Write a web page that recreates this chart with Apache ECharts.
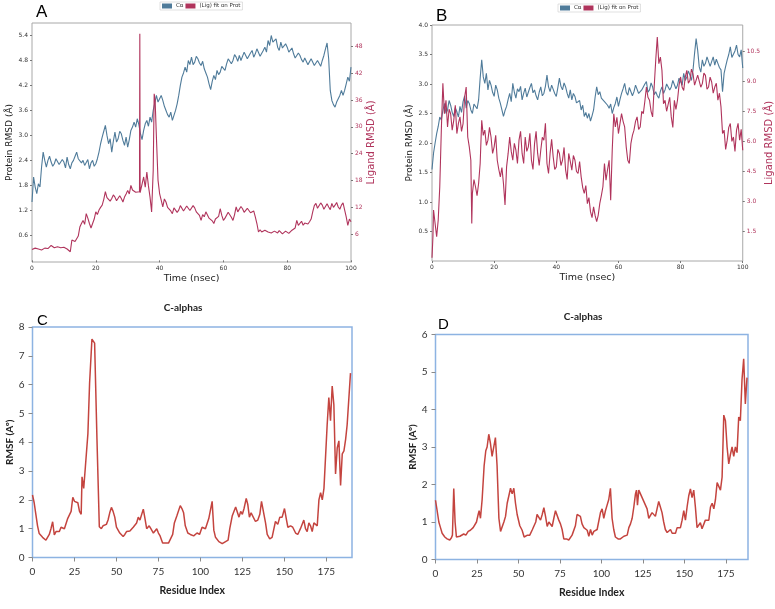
<!DOCTYPE html>
<html><head><meta charset="utf-8">
<script src="https://cdn.jsdelivr.net/npm/echarts@6/dist/echarts.min.js"></script>
<style>html,body{margin:0;padding:0;background:#fff}#c{width:775px;height:609px}</style>
</head><body><div id="c"></div>
<script>
// ---------- tick labels ----------
const timeTicks = [0, 20, 40, 60, 80, 100];
const protTicksA = [0.6, 1.2, 1.8, 2.4, 3.0, 3.6, 4.2, 4.8, 5.4];
const ligTicksA = [6, 12, 18, 24, 30, 36, 42, 48];
const protTicksB = [0.5, 1.0, 1.5, 2.0, 2.5, 3.0, 3.5, 4.0];
const ligTicksB = [1.5, 3.0, 4.5, 6.0, 7.5, 9.0, 10.5];
const residueTicks = [0, 25, 50, 75, 100, 125, 150, 175];

// ---------- series names ----------
const protName = 'Cα';
const ligName = '(Lig) fit on Prot';

// ---------- Panel A: [time (ns), RMSD] ----------
const proteinA = [[0,1.4],[0.5,2.0],[1,1.76],[1.5,1.6],[2,1.84],[2.5,1.76],[3,2.24],[3.5,2.6],[4,2.4],[4.5,2.24],[5,2.4],[5.5,2.5],[6,2.36],[6.5,2.26],[7,2.32],[7.5,2.44],[8,2.4],[8.5,2.3],[9,2.28],[9.5,2.42],[10,2.36],[10.5,2.22],[11,2.48],[11.5,2.3],[12,2.2],[12.5,2.34],[13,2.4],[13.5,2.5],[14,2.6],[14.5,2.44],[15,2.48],[15.5,2.34],[16,2.4],[16.5,2.28],[17,2.32],[17.5,2.42],[18,2.2],[18.5,2.34],[19,2.4],[19.5,2.26],[20,2.32],[20.5,2.44],[21,2.6],[21.5,2.8],[22,2.96],[22.5,3.1],[23,3.24],[23.5,3.0],[24,2.8],[24.5,2.92],[25,2.6],[25.5,2.86],[26,3.08],[26.5,2.84],[27,2.92],[27.5,3.1],[28,3.04],[28.5,2.88],[29,2.76],[29.5,2.96],[30,2.72],[30.5,2.9],[31,3.12],[31.5,3.2],[32,3.32],[32.5,3.2],[33,3.4],[33.5,3.26],[34,3.04],[34.5,2.9],[35,3.12],[35.5,3.28],[36,3.36],[36.5,3.22],[37,3.44],[37.5,3.32],[38,3.6],[38.5,3.56],[39,3.96],[39.5,3.8],[40,3.88],[40.5,3.96],[41,3.84],[41.5,3.7],[42,3.6],[42.5,3.5],[43,3.44],[43.5,3.56],[44,3.36],[44.5,3.48],[45,3.6],[45.5,3.76],[46,3.96],[46.5,4.2],[47,4.4],[47.5,4.5],[48,4.64],[48.5,4.52],[49,4.8],[49.5,4.7],[50,4.88],[50.5,4.7],[51,4.76],[51.5,4.9],[52,4.84],[52.5,4.74],[53,4.68],[53.5,4.78],[54,4.6],[54.5,4.5],[55,4.4],[55.5,4.24],[56,4.1],[56.5,4.3],[57,4.44],[57.5,4.34],[58,4.56],[58.5,4.46],[59,4.52],[59.5,4.66],[60,4.64],[60.5,4.56],[61,4.72],[61.5,4.84],[62,4.88],[62.5,4.72],[63,4.8],[63.5,4.94],[64,4.88],[64.5,4.78],[65,4.92],[65.5,4.8],[66,4.84],[66.5,5.0],[67,4.96],[67.5,4.84],[68,4.88],[68.5,4.98],[69,5.04],[69.5,4.88],[70,4.96],[70.5,5.08],[71,5.04],[71.5,4.9],[72,4.92],[72.5,5.04],[73,5.12],[73.5,5.0],[74,5.28],[74.5,5.16],[75,5.4],[75.5,5.24],[76,5.2],[76.5,5.32],[77,5.12],[77.5,5.04],[78,5.24],[78.5,5.1],[79,5.08],[79.5,5.2],[80,5.12],[80.5,5.0],[81,5.0],[81.5,5.1],[82,4.96],[82.5,4.86],[83,4.88],[83.5,4.98],[84,4.92],[84.5,4.82],[85,4.76],[85.5,4.86],[86,4.84],[86.5,4.7],[87,4.72],[87.5,4.84],[88,4.8],[88.5,4.68],[89,4.68],[89.5,4.8],[90,4.76],[90.5,4.66],[91,4.8],[91.5,4.92],[92,5.08],[92.5,5.22],[93,4.84],[93.5,4.08],[94,3.84],[94.5,3.74],[95,3.68],[95.5,3.8],[96,3.84],[96.5,3.96],[97,4.08],[97.5,3.96],[98,4.08],[98.5,4.24],[99,4.4],[99.5,4.3],[100,4.64]];
const ligandA = [[0,2.6],[0.5,3.0],[1,2.9],[1.5,2.5],[2,2.7],[2.5,3.1],[3,2.5],[3.5,2.8],[4,2.9],[4.5,2.6],[5,2.8],[5.5,3.2],[6,3.5],[6.5,3.1],[7,3.0],[7.5,3.3],[8,3.2],[8.5,2.9],[9,3.0],[9.5,3.3],[10,3.1],[10.5,2.8],[11,2.7],[11.5,2.9],[12,2.1],[12.5,4.7],[13,5.0],[13.5,4.4],[14,4.7],[14.5,5.6],[15,7.6],[15.5,8.4],[16,9.1],[16.5,8.2],[17,10.6],[17.5,9.6],[18,8.4],[18.5,7.4],[19,7.3],[19.5,9.4],[20,11.0],[20.5,10.4],[21,11.4],[21.5,12.0],[22,12.5],[22.5,13.8],[23,15.5],[23.5,14.2],[24,14.3],[24.5,13.4],[25,14.0],[25.5,14.8],[26,14.3],[26.5,13.5],[27,13.6],[27.5,14.6],[28,14.0],[28.5,13.2],[29,14.3],[29.5,15.0],[30,15.8],[30.5,15.0],[31,16.9],[31.5,15.9],[32,16.2],[32.5,15.4],[33,15.1],[33.7,15.5],[33.8,50.8],[33.9,15.3],[34,15.1],[34.5,17.2],[35,18.8],[35.5,16.5],[36,19.9],[36.5,16.8],[37,14.3],[37.5,11.0],[38,20.3],[38.3,37.4],[38.6,35.9],[39,27.7],[39.5,18.1],[40,15.1],[40.5,13.6],[41,12.1],[41.5,13.9],[42,13.2],[42.5,12.0],[43,12.1],[43.5,11.2],[44,10.6],[44.5,11.9],[45,11.7],[45.5,10.9],[46,11.4],[46.5,12.4],[47,12.1],[47.5,11.2],[48,11.4],[48.5,12.3],[49,12.1],[49.5,11.3],[50,11.7],[50.5,12.4],[51,11.9],[51.5,11.0],[52,11.4],[52.5,10.2],[53,9.1],[53.5,10.4],[54,9.9],[54.5,11.0],[55,10.6],[55.5,9.6],[56,9.5],[56.5,9.0],[57,8.4],[57.5,9.4],[58,9.1],[58.5,10.0],[59,11.7],[59.5,10.2],[60,9.1],[60.5,9.6],[61,9.9],[61.5,10.9],[62,10.6],[62.5,9.8],[63,9.1],[63.5,10.4],[64,12.1],[64.5,11.0],[65,11.4],[65.5,12.2],[66,11.7],[66.5,10.9],[67,11.0],[67.5,11.8],[68,11.4],[68.5,10.8],[69,10.6],[69.5,11.2],[70,9.9],[70.5,8.4],[71,6.5],[71.5,7.0],[72,6.5],[72.5,6.2],[73,6.9],[73.5,6.6],[74,6.5],[74.5,6.9],[75,6.3],[75.5,6.0],[76,6.7],[76.5,6.4],[77,6.3],[77.5,6.8],[78,6.5],[78.5,6.1],[79,6.2],[79.5,6.7],[80,6.5],[80.5,6.2],[81,6.3],[81.5,6.9],[82,6.7],[82.5,7.4],[83,9.1],[83.5,8.0],[84,8.4],[84.5,8.9],[85,8.0],[85.5,8.5],[86,8.8],[86.5,8.3],[87,8.8],[87.5,9.4],[88,11.0],[88.5,12.4],[89,12.9],[89.5,11.8],[90,12.1],[90.5,13.0],[91,12.5],[91.5,11.6],[92,11.7],[92.5,12.8],[93,12.1],[93.5,11.5],[94,12.9],[94.5,12.0],[95,12.5],[95.5,13.1],[96,12.1],[96.5,11.6],[97,12.5],[97.5,13.0],[98,12.9],[98.5,9.9],[99,8.0],[99.5,9.4],[100,8.8]];

// ---------- Panel B ----------
const proteinB = [[0,1.55],[0.5,1.83],[1,2.0],[1.5,2.16],[2,2.28],[2.5,2.44],[3,2.39],[3.5,2.55],[4,2.67],[4.5,2.5],[5,2.56],[5.5,2.72],[6,2.64],[6.5,2.52],[7,2.45],[7.5,2.6],[8,2.53],[8.5,2.44],[9,2.62],[9.5,2.52],[10,2.7],[10.5,2.8],[11,2.59],[11.5,2.72],[12,2.67],[12.5,2.56],[13,2.5],[13.5,2.66],[14,2.64],[14.5,2.58],[15,2.73],[15.5,3.1],[16,3.41],[16.5,3.12],[17,3.01],[17.5,3.18],[18,2.9],[18.5,3.06],[19,2.98],[19.5,2.86],[20,2.79],[20.5,2.98],[21,2.9],[21.5,2.76],[22,2.67],[22.5,2.56],[23,2.45],[23.5,2.55],[24,2.62],[24.5,2.74],[25,2.84],[25.5,2.7],[26,3.01],[26.5,2.86],[27,2.76],[27.5,2.92],[28,2.87],[28.5,2.96],[29,2.73],[29.5,2.84],[30,2.93],[30.5,2.78],[31,2.81],[31.5,2.94],[32,3.01],[32.5,2.85],[33,2.9],[33.5,2.8],[34,2.73],[34.5,2.86],[35,2.95],[35.5,2.8],[36,2.84],[36.5,2.96],[37,3.15],[37.5,2.95],[38,2.87],[38.5,2.98],[39,2.95],[39.5,2.84],[40,2.79],[40.5,2.94],[41,3.1],[41.5,2.96],[42,2.9],[42.5,3.02],[43,2.95],[43.5,2.84],[44,2.76],[44.5,2.9],[45,2.73],[45.5,2.84],[46,2.79],[46.5,2.68],[47,2.67],[47.5,2.72],[48,2.56],[48.5,2.64],[49,2.45],[49.5,2.52],[50,2.42],[50.5,2.5],[51,2.37],[51.5,2.46],[52,2.56],[52.5,2.78],[53,2.95],[53.5,2.82],[54,2.87],[54.5,2.76],[55,2.79],[55.5,2.7],[56,2.73],[56.5,2.64],[57,2.59],[57.5,2.66],[58,2.5],[58.5,2.6],[59,2.67],[59.5,2.78],[60,2.62],[60.5,2.74],[61,2.84],[61.5,2.92],[62,3.01],[62.5,2.86],[63,2.81],[63.5,2.94],[64,2.93],[64.5,2.8],[65,2.87],[65.5,2.98],[66,2.95],[66.5,2.84],[67,2.81],[67.5,2.9],[68,2.93],[68.5,3.0],[69,3.04],[69.5,2.86],[70,2.9],[70.5,3.02],[71,2.95],[71.5,2.82],[72,2.87],[72.5,2.8],[73,2.76],[73.5,2.88],[74,2.95],[74.5,2.84],[75,2.9],[75.5,3.0],[76,3.01],[76.5,2.9],[77,2.95],[77.5,3.06],[78,3.04],[78.5,2.92],[79,2.98],[79.5,3.1],[80,3.07],[80.5,2.98],[81,3.18],[81.5,3.06],[82,3.12],[82.5,3.22],[83,3.15],[83.5,3.06],[84,3.24],[84.5,3.52],[85,3.77],[85.5,3.57],[86,3.29],[86.5,3.2],[87,3.41],[87.5,3.3],[88,3.35],[88.5,3.46],[89,3.43],[89.5,3.3],[90,3.38],[90.5,3.46],[91,3.32],[91.5,3.42],[92,3.35],[92.5,3.28],[93,3.24],[93.5,2.87],[94,3.18],[94.5,3.3],[95,3.41],[95.5,3.5],[96,3.63],[96.5,3.45],[97,3.43],[97.5,3.56],[98,3.66],[98.5,3.5],[99,3.46],[99.5,3.58],[100,3.27]];
const ligandB = [[0,0.2],[0.3,1.25],[0.5,2.58],[1,1.91],[1.5,1.25],[2,2.08],[2.5,3.74],[3,6.56],[3.5,8.9],[4,7.38],[4.5,8.05],[5,6.72],[5.5,7.6],[6,7.38],[6.5,6.56],[7,7.05],[7.5,7.8],[8,6.39],[8.5,6.9],[9,7.22],[9.5,6.5],[10,6.89],[10.5,8.21],[11,8.71],[11.5,6.22],[12,5.73],[12.5,5.06],[12.8,1.91],[13,3.41],[13.5,4.1],[14,3.74],[14.5,3.3],[15,3.9],[15.5,4.9],[16,7.05],[16.5,6.3],[17,6.56],[17.5,5.8],[18,6.06],[18.5,6.7],[19,6.22],[19.5,5.4],[20,5.73],[20.5,6.3],[21,5.06],[21.5,4.6],[22,4.23],[22.5,4.7],[23,3.9],[23.5,2.83],[24,4.73],[24.5,5.4],[25,6.22],[25.5,5.5],[26,5.06],[26.5,5.9],[27,5.56],[27.5,4.9],[28,6.06],[28.5,6.5],[29,5.4],[29.5,4.9],[30,6.22],[30.5,5.5],[31,5.73],[31.5,6.4],[32,5.06],[32.5,4.6],[33,5.89],[33.5,6.5],[34,5.4],[34.5,4.8],[35,5.56],[35.5,6.2],[36,6.06],[36.5,6.9],[37,4.9],[37.5,4.4],[38,5.4],[38.5,6.1],[39,5.23],[39.5,4.6],[40,4.73],[40.5,5.6],[41,5.4],[41.5,4.8],[42,5.06],[42.5,5.7],[43,4.57],[43.5,4.1],[44,5.4],[44.5,5.0],[45,4.57],[45.5,5.3],[46,5.06],[46.5,4.5],[47,4.4],[47.5,5.0],[48,4.23],[48.5,3.7],[49,3.41],[49.5,3.8],[50,2.9],[50.5,3.2],[51,2.5],[51.5,2.2],[52,2.74],[52.5,2.3],[53,2.0],[53.5,2.33],[54,2.91],[54.5,3.3],[55,3.74],[55.5,4.9],[56,4.07],[56.5,4.6],[57,5.06],[57.5,3.07],[58,5.56],[58.5,7.38],[59,6.72],[59.5,7.2],[60,6.39],[60.5,6.9],[61,7.38],[61.5,7.0],[62,6.72],[62.5,5.73],[63,5.06],[63.5,4.9],[64,5.89],[64.5,6.3],[65,6.56],[65.5,7.0],[66,7.22],[66.5,6.6],[67,6.72],[67.5,7.5],[68,7.38],[68.5,8.0],[69,8.71],[69.5,8.2],[70,8.05],[70.5,7.5],[71,7.22],[71.5,8.71],[72,10.04],[72.5,11.2],[73,9.87],[73.5,10.2],[74,9.54],[74.5,7.88],[75,8.05],[75.5,7.5],[76,7.55],[76.5,8.2],[77,7.22],[77.5,6.7],[78,8.05],[78.5,7.6],[79,8.05],[79.5,8.8],[80,9.21],[80.5,8.7],[81,8.54],[81.5,9.2],[82,9.54],[82.5,8.9],[83,9.04],[83.5,9.6],[84,9.37],[84.5,8.8],[85,8.79],[85.5,9.3],[86,9.21],[86.5,8.7],[87,8.88],[87.5,9.4],[88,9.29],[88.5,8.6],[89,8.71],[89.5,9.2],[90,8.96],[90.5,8.4],[91,8.71],[91.5,8.9],[92,8.05],[92.5,8.4],[93,7.72],[93.5,6.39],[94,6.56],[94.5,5.6],[95,6.06],[95.5,6.7],[96,6.89],[96.5,6.0],[97,6.22],[97.5,5.5],[98,6.56],[98.5,6.9],[99,6.06],[99.5,6.6],[100,5.56]];

// ---------- Panel C: [residue, RMSF] ----------
const rmsfC = [[0,2.17],[1,1.9],[2,1.5],[3,1.1],[4,0.83],[5,0.8],[6,0.7],[7,0.65],[8,0.6],[9,0.65],[10,0.8],[11,1.0],[12,1.24],[13,0.78],[14,0.9],[15,0.88],[16,0.9],[17,1.05],[18,1.05],[19,1.0],[20,1.05],[21,1.36],[22,1.3],[23,1.6],[24,2.09],[25,1.95],[26,1.95],[27,1.9],[28,1.6],[29,1.5],[29.5,2.8],[30.5,2.4],[31.5,3.15],[33,4.3],[34,6.05],[35.4,7.58],[37,7.44],[38.4,4.1],[39.8,1.07],[41,1.0],[42,1.1],[44,1.15],[45,1.3],[46,1.55],[47,1.74],[48,1.6],[49,1.4],[50,1.05],[52,0.85],[54,0.73],[55,0.8],[56,0.9],[58,0.92],[60,1.05],[61,1.1],[62,1.2],[63,1.4],[64,1.3],[65,1.28],[66,1.68],[67,1.35],[68,1.0],[69.5,1.1],[70.5,1.0],[72,0.85],[73,0.85],[74,1.0],[75,0.85],[76,0.75],[77.5,0.5],[79,0.5],[81,0.5],[82,0.55],[83.5,0.8],[84.5,1.2],[86,1.45],[88,1.8],[89,1.7],[90,1.55],[91,1.1],[92.5,0.85],[94,0.8],[96,0.75],[98,0.85],[99.5,0.8],[101,1.05],[102,1.1],[103,1.0],[104,0.95],[105,1.35],[106,1.4],[107,1.95],[108,0.95],[109,0.7],[111,0.55],[113,0.48],[115,0.55],[116.5,0.6],[117.5,1.0],[119,1.45],[120,1.5],[121,1.75],[122,1.8],[123,1.4],[124,1.6],[125,1.5],[126,1.7],[127.3,2.05],[128.2,1.85],[129.2,1.4],[130.2,1.55],[131.2,1.55],[132.8,1.25],[134.2,1.3],[135.4,1.5],[136.4,1.95],[137.4,2.0],[138.8,1.2],[139.8,0.8],[141.3,0.65],[142.7,0.7],[143.7,0.7],[144.7,1.25],[146.1,1.15],[147.3,1.4],[148.7,1.4],[150.1,1.7],[151.3,1.3],[152.1,1.05],[153.7,1.1],[155,1.05],[156.7,0.85],[158,0.8],[159.6,1.0],[160.6,1.0],[161.6,1.3],[162.6,1.0],[163.6,0.9],[164.6,1.2],[165.6,1.1],[166.6,0.9],[167.6,1.2],[168.6,1.2],[169.6,1.1],[170.6,2.0],[171.6,2.25],[172.6,2.0],[173.6,2.4],[174.6,2.45],[175.5,4.6],[176.5,5.55],[177.5,4.75],[178.5,5.95],[179.5,5.3],[180.5,2.9],[181.5,3.8],[182.5,4.05],[183.5,2.5],[184.5,3.6],[185.5,3.7],[186.5,4.1],[187.4,4.6],[188.4,4.65],[189.4,6.4]];

// ---------- Panel D ----------
const rmsfD = [[0,1.58],[1,1.3],[2,1.0],[3,0.85],[4,0.7],[5.6,0.6],[7,0.55],[8.6,0.52],[9.6,0.58],[10.2,0.65],[11,1.89],[11.8,1.0],[12.6,0.6],[14.7,0.62],[15.7,0.65],[17,0.68],[18.3,0.65],[19.7,0.75],[21,0.78],[22.7,0.85],[23.7,0.9],[24.7,1.0],[25.7,1.2],[26.3,1.3],[27.1,1.1],[28.1,1.6],[29.3,2.5],[30.3,2.9],[31.1,3.0],[32.1,3.34],[33.1,3.1],[34.1,2.75],[35.1,2.8],[36.1,3.25],[37.1,2.5],[38.2,1.1],[39.2,0.75],[40.2,0.8],[41.2,1.0],[42.2,1.15],[43.2,1.5],[44.2,1.7],[45.2,1.9],[46.2,1.75],[47.2,1.9],[48.2,1.5],[49.2,1.2],[50.8,0.9],[52.2,0.78],[53.4,0.6],[54.4,0.58],[55.4,0.65],[56.8,0.65],[57.8,0.65],[58.4,0.8],[59.4,0.75],[60.4,1.0],[61.2,1.2],[62.2,1.22],[63.3,1.05],[64.3,1.2],[65.3,1.38],[66.3,1.15],[67.3,0.88],[68.3,1.0],[69.3,0.95],[70.3,0.88],[71.3,1.1],[72.3,1.3],[73.3,1.3],[74.3,1.05],[75.3,0.95],[76.3,0.8],[77.3,0.55],[78.9,0.55],[80.3,0.52],[81.3,0.55],[82.3,0.65],[83.3,0.7],[84.3,0.9],[85.3,1.2],[86.3,1.23],[87.3,1.15],[88.3,0.95],[89.4,0.85],[90.4,0.82],[91.4,0.78],[92.4,0.62],[93.4,0.8],[94.4,0.65],[95.4,0.75],[96.4,0.8],[97.4,0.8],[98.4,0.82],[99.4,1.25],[100.4,1.35],[101.4,1.1],[102.4,1.3],[103.4,1.45],[104.4,1.6],[105.4,1.9],[106.4,1.1],[107.4,0.8],[108.4,0.6],[110,0.55],[111.4,0.55],[112.4,0.6],[113.5,0.62],[114.5,0.58],[115.5,0.65],[116.5,0.85],[117.5,0.95],[118.5,1.1],[119.5,1.4],[120.5,1.75],[121.1,1.85],[121.7,1.45],[122.5,1.85],[123.5,1.9],[124.5,1.65],[125.5,1.55],[126.5,1.45],[127.5,1.35],[128.5,1.1],[129.5,1.1],[130.5,1.25],[131.5,1.22],[132.5,1.15],[133.5,1.35],[134.5,1.55],[135.5,1.4],[136.5,1.25],[137.5,1.0],[138.5,0.8],[139.6,0.72],[140.6,0.72],[141.6,0.8],[142.6,0.7],[143.6,0.65],[144.6,0.7],[145.6,0.85],[146.6,0.88],[147.6,0.85],[148.6,1.05],[149.6,1.3],[150.6,1.05],[151.6,1.4],[152.6,1.7],[153.6,1.88],[154.6,1.65],[155.6,1.85],[156.6,1.4],[157.6,0.85],[158.6,0.8],[159.6,0.98],[160.6,0.82],[161.6,0.8],[162.6,1.05],[163.7,1.1],[164.7,1.05],[165.7,1.4],[166.7,1.5],[167.7,1.35],[168.7,1.6],[169.7,2.05],[170.7,1.95],[171.7,1.85],[172.7,2.2],[173.7,3.85],[174.7,3.7],[175.7,3.0],[176.7,2.55],[177.7,2.8],[178.7,3.0],[179.7,2.75],[180.7,3.0],[181.7,2.85],[182.7,3.8],[183.7,3.7],[184.7,4.8],[185.7,5.35],[186.7,4.15],[187.7,4.85]];

// ---------- styling ----------
const BLUE = '#4f7b9a', CRIMSON = '#b0345c', RED = '#c4443f';
const MPL = 'DejaVu Sans', XL = 'Lato';

function fmt1(v){ return (Math.round(v*10)/10).toFixed(1); }

function mplX(grid){
  return {gridIndex:grid, type:'value', min:timeTicks[0], max:timeTicks[timeTicks.length-1], interval:20,
    name:'Time (nsec)', nameLocation:'middle', nameGap:12,
    nameTextStyle:{fontFamily:MPL, fontSize:9.5, color:'#222'},
    axisLine:{show:false}, splitLine:{show:false},
    axisTick:{show:true, length:2, lineStyle:{color:'#777'}},
    axisLabel:{fontFamily:MPL, fontSize:6, color:'#333', margin:3}};
}
function mplY(grid, min, max, ticks, name, gap, color, right, fmt){
  return {gridIndex:grid, type:'value', min:min, max:max, position: right?'right':'left',
    name:name, nameLocation:'middle', nameGap:gap,
    nameTextStyle:{fontFamily:MPL, fontSize: right?10:9, color:color},
    axisLine:{show:false}, splitLine:{show:false},
    axisTick:{show:true, length:2, customValues:ticks, lineStyle:{color:'#777'}},
    axisLabel:{fontFamily:MPL, fontSize:6, color: right?CRIMSON:'#333', margin:4,
      customValues:ticks, formatter: fmt}};
}
function xlX(grid, max, gap){
  return {gridIndex:grid, type:'value', min:0, max:max,
    name:'Residue Index', nameLocation:'middle', nameGap:gap,
    nameTextStyle:{fontFamily:XL, fontSize:10.5, fontWeight:'bold', color:'#222'},
    axisLine:{show:false}, splitLine:{show:false},
    axisTick:{show:true, length:4, customValues:residueTicks, lineStyle:{color:'#8a8a8a'}},
    axisLabel:{fontFamily:XL, fontSize:10, color:'#333', margin:9, customValues:residueTicks}};
}
function xlY(grid, max, gap){
  return {gridIndex:grid, type:'value', min:0, max:max, interval:1,
    name:'RMSF (Aº)', nameLocation:'middle', nameGap:gap,
    nameTextStyle:{fontFamily:XL, fontSize:10, fontWeight:'bold', color:'#222'},
    axisLine:{show:false}, splitLine:{show:false},
    axisTick:{show:true, length:4, lineStyle:{color:'#8a8a8a'}},
    axisLabel:{fontFamily:XL, fontSize:10, color:'#333', margin:8}};
}

const chart = echarts.init(document.getElementById('c'), null, {renderer:'canvas'});
const legendCommon = {orient:'horizontal', itemWidth:10, itemHeight:5, itemGap:2,
  padding:[1,2], borderColor:'#ccc', borderWidth:0.6, selectedMode:false,
  textStyle:{fontFamily:MPL, fontSize:5.5, color:'#333', padding:[0,0,0,-1]},
  icon:'rect', data:[protName, ligName]};

chart.setOption({
  animation:false,
  backgroundColor:'#fff',
  legend:[
    Object.assign({left:160, top:2}, legendCommon),
    Object.assign({left:558, top:4}, legendCommon)
  ],
  title:[
    {text:'C-alphas', left:178, top:298, textAlign:'center',
     textStyle:{fontFamily:XL, fontSize:10, fontWeight:'bold', color:'#222'}},
    {text:'C-alphas', left:578, top:307, textAlign:'center',
     textStyle:{fontFamily:XL, fontSize:10, fontWeight:'bold', color:'#222'}}
  ],
  graphic:[
    {type:'text', left:36, top:4, style:{text:'A', font:'17px "Liberation Sans"', fill:'#000'}},
    {type:'text', left:436, top:8, style:{text:'B', font:'17px "Liberation Sans"', fill:'#000'}},
    {type:'text', left:37, top:313, style:{text:'C', font:'15px "Liberation Sans"', fill:'#000'}},
    {type:'text', left:438, top:317, style:{text:'D', font:'15px "Liberation Sans"', fill:'#000'}}
  ],
  grid:[
    {left:32, top:23, width:319, height:239, show:true, borderColor:'#a8a8a8', borderWidth:1, containLabel:false},
    {left:432, top:25, width:315, height:236, show:true, borderColor:'#a8a8a8', borderWidth:1, containLabel:false},
    {left:32.5, top:327, width:319.5, height:230.5, show:true, borderColor:'#8db3e2', borderWidth:1.5, containLabel:false},
    {left:435.5, top:334.5, width:312.5, height:225, show:true, borderColor:'#8db3e2', borderWidth:1.5, containLabel:false}
  ],
  xAxis:[ mplX(0), mplX(1), xlX(2, 190.3, 28), xlX(3, 188.3, 28) ],
  yAxis:[
    mplY(0, -0.04, 5.7, protTicksA, 'Protein RMSD (Å)', 12, '#222', false, fmt1),
    mplY(0, -0.2, 53.2, ligTicksA, 'Ligand RMSD (Å)', 8, CRIMSON, true, v=>String(Math.round(v))),
    mplY(1, 0, 4.0, protTicksB, 'Protein RMSD (Å)', 10, '#222', false, fmt1),
    mplY(1, 0.04, 11.8, ligTicksB, 'Ligand RMSD (Å)', 15, CRIMSON, true, fmt1),
    xlY(2, 8, 14),
    xlY(3, 6, 14)
  ],
  series:[
    {name:protName, type:'line', xAxisIndex:0, yAxisIndex:0, data:proteinA, showSymbol:false, lineStyle:{color:BLUE, width:1.1}, itemStyle:{color:BLUE}},
    {name:ligName, type:'line', xAxisIndex:0, yAxisIndex:1, data:ligandA, showSymbol:false, lineStyle:{color:CRIMSON, width:1.1}, itemStyle:{color:CRIMSON}},
    {name:protName, type:'line', xAxisIndex:1, yAxisIndex:2, data:proteinB, showSymbol:false, lineStyle:{color:BLUE, width:1.1}, itemStyle:{color:BLUE}},
    {name:ligName, type:'line', xAxisIndex:1, yAxisIndex:3, data:ligandB, showSymbol:false, lineStyle:{color:CRIMSON, width:1.1}, itemStyle:{color:CRIMSON}},
    {name:'RMSF C', type:'line', xAxisIndex:2, yAxisIndex:4, data:rmsfC, showSymbol:false, lineStyle:{color:RED, width:1.5}},
    {name:'RMSF D', type:'line', xAxisIndex:3, yAxisIndex:5, data:rmsfD, showSymbol:false, lineStyle:{color:RED, width:1.5}}
  ]
});
</script>
</body></html>
